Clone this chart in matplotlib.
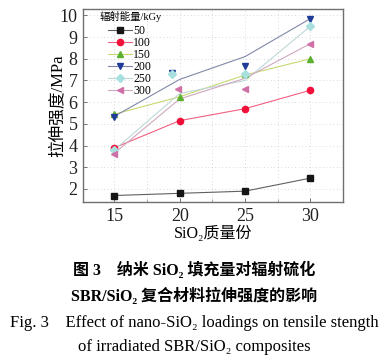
import matplotlib
matplotlib.use('Agg')
import matplotlib.pyplot as plt
from matplotlib.ticker import MultipleLocator

plt.rcParams['font.family'] = ['Liberation Serif', 'Noto Sans CJK SC', 'DejaVu Sans']

# ── data ─────────────────────────────────────────────────────────────────────
doses = ['50', '100', '150', '200', '250', '300']

x_50 = [15, 20, 25, 30]
y_50 = [1.7, 1.8, 1.9, 2.5]
x_100 = [15, 20, 25, 30]
y_100 = [3.9, 5.15, 5.7, 6.55]
x_150 = [15, 20, 25, 30]
y_150 = [5.45, 6.25, 7.3, 8.0]
x_200 = [15, 19.4, 25, 30]
y_200 = [5.3, 7.35, 7.65, 9.85]
x_250 = [15, 19.4, 25, 30]
y_250 = [3.8, 7.3, 7.3, 9.5]
x_300 = [15, 19.9, 25, 30]
y_300 = [3.6, 6.6, 6.6, 8.7]

# fitted curves drawn through the points (values read at 15/20/25/30)
fit_x = [15, 20, 25, 30]
fit_50 = [1.7, 1.8, 1.9, 2.5]
fit_100 = [3.9, 5.15, 5.7, 6.55]
fit_150 = [5.45, 6.25, 7.25, 8.0]
fit_200 = [5.35, 7.05, 8.1, 9.85]
fit_250 = [3.8, 6.4, 7.0, 9.5]
fit_300 = [3.65, 6.15, 7.1, 8.7]

# (x, y, fit, marker, marker colour, line colour)
series = [
    (x_50, y_50, fit_50, 's', '#151515', '#606060'),
    (x_100, y_100, fit_100, 'o', '#f0103a', '#f06080'),
    (x_150, y_150, fit_150, '^', '#5cb030', '#c8d870'),
    (x_200, y_200, fit_200, 'v', '#203c98', '#8088a8'),
    (x_250, y_250, fit_250, 'D', '#a8e0e0', '#c0d8d8'),
    (x_300, y_300, fit_300, '<', '#d070a8', '#d0a8c0'),
]

fig = plt.figure(figsize=(3.88, 3.61), dpi=100, facecolor='white')
ax = fig.add_axes([0.214, 0.4404, 0.67, 0.535])

for (xs, ys, fit, mk, mc, lc), lab in zip(series, doses):
    ax.plot(fit_x, fit, color=lc, lw=0.8, zorder=2)
    ax.plot(xs, ys, linestyle='none', marker=mk, ms=4.5, color=mc,
            markeredgecolor=mc, zorder=3)
    # legend proxy: line + marker
    ax.plot([], [], color=lc, lw=0.8, marker=mk, ms=4.5,
            markerfacecolor=mc, markeredgecolor=mc, label=lab)

ax.set_xlim(12.6, 32.5)
ax.set_ylim(1.4, 10.3)
ax.xaxis.set_major_locator(MultipleLocator(5))
ax.xaxis.set_minor_locator(MultipleLocator(2.5))
ax.yaxis.set_major_locator(MultipleLocator(1))
ax.tick_params(direction='in', length=3, width=0.6, colors='#606060',
               labelcolor='#222222', labelsize=13, pad=4)
ax.tick_params(which='minor', direction='in', length=2, width=0.5, colors='#808080')
for s in ax.spines.values():
    s.set_color('#707070')
    s.set_linewidth(1.0)

ax.grid(True, which='both', color='#b8b8b8', lw=0.5, linestyle=(0, (1, 4)))
ax.set_axisbelow(True)

ax.set_ylabel('拉伸强度/MPa', fontsize=12, labelpad=-4)
ax.set_xlabel('SiO₂质量份', fontsize=11.5, labelpad=1)

ax.text(0.065, 0.96, '辐射能量/kGy', transform=ax.transAxes, fontsize=7.5,
        ha='left', va='center')
ax.legend(loc='upper left', fontsize=8.5, frameon=False, handlelength=2.0,
          handletextpad=0.15, labelspacing=0.0, borderaxespad=0.0,
          borderpad=0.0, bbox_to_anchor=(0.096, 0.915))

fig.text(0.5, 0.250, '图 3　纳米 SiO₂ 填充量对辐射硫化', ha='center', va='center',
         fontsize=11.5, fontweight='bold')
fig.text(0.5, 0.180, 'SBR/SiO₂ 复合材料拉伸强度的影响', ha='center', va='center',
         fontsize=11.5, fontweight='bold')
fig.text(0.5, 0.105, 'Fig. 3　Effect of nano-SiO₂ loadings on tensile stength',
         ha='center', va='center', fontsize=12)
fig.text(0.5, 0.038, 'of irradiated SBR/SiO₂ composites', ha='center', va='center',
         fontsize=12)

fig.savefig('out.png', dpi=100, facecolor='white')
